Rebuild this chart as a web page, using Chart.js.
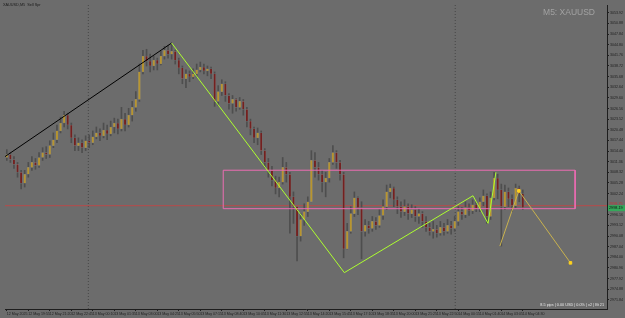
<!DOCTYPE html>
<html>
<head>
<meta charset="utf-8">
<style>
html, body { margin: 0; padding: 0; background: #6c6c6c; }
canvas { display: block; }
</style>
</head>
<body>
<canvas id="priceChart" width="625" height="318"></canvas>
<script src="https://cdn.jsdelivr.net/npm/chart.js@4/dist/chart.umd.min.js"></script>
<script>
// XAUUSD M5 candles (open = previous close)
const firstOpen = 3012.54;
const closes = [
    3013.39, 3011.98, 3010.57, 3008.32, 3005.23, 3007.76, 3009.73, 3011.14, 3010.29, 3012.54,
    3013.95, 3013.39, 3015.92, 3017.61, 3020.14, 3022.40, 3024.65, 3021.83, 3018.17, 3015.92,
    3016.77, 3015.36, 3017.33, 3016.77, 3018.45, 3019.58, 3018.74, 3020.42, 3019.30, 3021.27,
    3022.40, 3020.71, 3023.52, 3021.83, 3024.65, 3026.90, 3029.15, 3037.03, 3041.53, 3040.13,
    3038.72, 3040.41, 3039.28, 3041.53, 3043.22, 3042.10, 3042.94, 3040.41, 3038.16, 3035.06,
    3036.47, 3035.62, 3036.47, 3037.59, 3038.44, 3037.31, 3037.88, 3036.47, 3028.59, 3031.40,
    3033.65, 3030.28, 3028.02, 3029.15, 3026.90, 3028.59, 3026.34, 3022.96, 3020.71, 3018.17,
    3019.58, 3014.51, 3011.14, 3008.88, 3006.07, 3003.82, 3005.51, 3009.73, 3007.76, 3001.29,
    2998.47, 2990.03, 2994.81, 2997.06, 2999.88, 3011.70, 3009.73, 3007.76, 3005.51, 3006.63,
    3011.14, 3013.95, 3011.14, 3007.76, 2986.37, 2991.43, 2996.50, 3001.00, 2998.19, 2991.43,
    2993.12, 2992.28, 2994.25, 2993.12, 2995.94, 2998.47, 3002.69, 3003.82, 3000.44, 2998.47,
    2997.06, 2998.47, 2996.50, 2997.63, 2995.66, 2996.50, 2994.25, 2992.56, 2991.43, 2992.00,
    2990.87, 2992.56, 2991.43, 2993.12, 2992.28, 2994.25, 2997.06, 2996.22, 2998.19, 2997.35,
    2999.03, 2997.91, 2999.88, 3001.57, 2995.66, 3001.00, 3006.63, 3003.26, 2998.47, 3002.69,
    3000.72, 2998.75, 3003.82, 3002.13, 2998.19
];
const highs = [
    3014.80, 3013.95, 3012.82, 3011.14, 3008.88, 3008.88, 3011.14, 3012.82, 3012.26, 3013.95,
    3015.36, 3015.64, 3017.33, 3019.58, 3021.83, 3024.08, 3025.77, 3025.21, 3022.40, 3019.02,
    3018.17, 3017.61, 3018.74, 3019.02, 3020.14, 3021.27, 3020.71, 3022.40, 3021.83, 3022.96,
    3023.80, 3023.52, 3026.90, 3025.21, 3026.62, 3028.59, 3031.40, 3039.28, 3043.22, 3043.50,
    3042.10, 3041.53, 3040.97, 3042.94, 3044.35, 3044.63, 3044.91, 3043.22, 3040.97, 3038.72,
    3037.59, 3037.31, 3037.88, 3039.28, 3039.85, 3039.28, 3038.72, 3038.44, 3037.03, 3033.09,
    3034.78, 3034.22, 3030.84, 3030.28, 3029.43, 3029.71, 3029.15, 3026.90, 3023.52, 3021.27,
    3020.99, 3020.14, 3015.08, 3012.26, 3010.01, 3007.20, 3006.91, 3012.54, 3011.14, 3008.32,
    3002.69, 2998.47, 2996.50, 2999.31, 3001.29, 3014.51, 3013.95, 3011.14, 3008.88, 3008.32,
    3012.26, 3015.92, 3014.51, 3011.70, 3008.32, 2993.69, 2998.47, 3002.69, 3001.29, 2999.88,
    2994.81, 2994.25, 2995.66, 2995.37, 2997.63, 3000.44, 3004.66, 3004.94, 3004.10, 3001.29,
    2999.88, 3000.44, 2999.31, 2999.03, 2998.47, 2997.91, 2997.06, 2995.66, 2993.69, 2994.25,
    2993.12, 2994.25, 2993.69, 2994.81, 2994.25, 2995.66, 2998.47, 2998.19, 2999.88, 2999.31,
    3000.44, 2999.88, 3001.00, 3003.26, 3002.13, 3002.69, 3008.32, 3007.76, 3004.94, 3004.66,
    3003.82, 3001.85, 3004.94, 3004.38, 3003.26
];
const lows = [
    3011.70, 3011.14, 3009.45, 3006.91, 3003.54, 3004.10, 3006.91, 3008.88, 3009.17, 3009.73,
    3011.70, 3012.26, 3012.54, 3015.36, 3016.77, 3019.58, 3021.27, 3020.71, 3016.77, 3014.51,
    3014.51, 3013.95, 3014.51, 3015.36, 3016.20, 3017.89, 3017.33, 3018.17, 3017.61, 3018.74,
    3019.58, 3019.30, 3020.14, 3020.14, 3021.27, 3022.96, 3025.77, 3028.59, 3036.47, 3038.72,
    3037.03, 3037.59, 3037.59, 3039.00, 3040.69, 3040.97, 3040.69, 3039.28, 3036.47, 3033.65,
    3032.53, 3034.22, 3035.06, 3035.62, 3037.03, 3036.47, 3035.91, 3035.06, 3027.18, 3027.46,
    3030.28, 3028.59, 3026.34, 3025.21, 3025.77, 3026.34, 3024.65, 3021.27, 3019.02, 3016.77,
    3016.20, 3013.39, 3009.73, 3006.91, 3004.38, 3002.13, 3001.29, 3004.94, 3005.51, 2990.87,
    2993.69, 2982.99, 2988.62, 2993.12, 2995.66, 2999.88, 3006.91, 3006.07, 3002.69, 3001.29,
    3005.51, 3010.57, 3009.45, 3006.07, 2983.84, 2986.37, 2990.87, 2995.66, 2996.22, 2983.55,
    2990.03, 2990.87, 2991.43, 2992.00, 2992.56, 2994.81, 2997.63, 3001.00, 2998.47, 2996.50,
    2995.37, 2995.94, 2994.81, 2995.37, 2994.25, 2993.69, 2992.56, 2991.43, 2990.31, 2989.46,
    2989.75, 2990.31, 2990.31, 2990.87, 2990.59, 2991.43, 2993.12, 2994.81, 2995.37, 2995.94,
    2996.50, 2997.06, 2997.06, 2998.75, 2993.69, 2994.81, 3000.44, 3000.72, 2987.21, 2997.63,
    2998.47, 2997.06, 2998.19, 2999.88, 2997.63
];

// bar slots on the time axis (includes the empty space on the right)
const slotCount = 168;
const labelEvery = 6;
const xTickLabels = [
    '12 May 2025', '12 May 19:55', '12 May 21:20', '12 May 22:45', '13 May 00:10',
    '13 May 01:35', '13 May 03:00', '13 May 04:25', '13 May 05:50', '13 May 07:15',
    '13 May 08:40', '13 May 10:05', '13 May 11:30', '13 May 12:55', '13 May 14:20',
    '13 May 15:45', '13 May 17:10', '13 May 18:35', '13 May 20:00', '13 May 21:25',
    '13 May 22:50', '14 May 00:15', '14 May 01:40', '14 May 03:05', '14 May 04:30'
];
const yTickValues = [
    3053.92, 3050.88, 3047.84, 3044.80, 3041.76, 3038.72, 3035.68, 3032.64, 3029.60, 3026.56,
    3023.52, 3020.48, 3017.44, 3014.40, 3011.36, 3008.32, 3005.28, 3002.24, 2996.16,
    2993.12, 2990.08, 2987.04, 2984.00, 2980.96, 2977.92, 2974.88, 2971.84
];
const yMin = 2969.20;
const yMax = 3056.17;

// drawn objects (bar index, price)
const blackTrend = [{x: -0.5, y: 3012.8}, {x: 46.0, y: 3045.3}];
const greenTrend = [{x: 46.0, y: 3045.3}, {x: 94.2, y: 2979.6}, {x: 130.1, y: 3001.6}, {x: 134.3, y: 2993.7}, {x: 136.5, y: 3008.3}];
const projection = [{x: 137.6, y: 2987.2}, {x: 142.9, y: 3003.0}, {x: 157.3, y: 2982.4}];
const zoneLeft = 60.4, zoneRight = 158.6, zoneTop = 3008.9, zoneBottom = 2997.9;
const redLevel = 2998.75;
const separators = [22.75, 125.15];

const bgColor = '#6c6c6c';
const bullColor = '#b8952e';
const bearColor = '#74201f';
const wickColor = '#4e4e4e';
const axisColor = '#1e1e1e';
const tinyFont = {family: 'Liberation Sans, Arial, sans-serif', size: 3.6};

const opens = closes.map((c, i) => (i === 0 ? firstOpen : closes[i - 1]));
const categories = Array.from({length: slotCount}, (_, i) => String(i));

const zoneRect = [
    {x: zoneLeft, y: zoneTop}, {x: zoneRight, y: zoneTop}, {x: zoneRight, y: zoneBottom},
    {x: zoneLeft, y: zoneBottom}, {x: zoneLeft, y: zoneTop}
];

function lineSet(data, color, order, extra) {
    return Object.assign({
        type: 'line',
        xAxisID: 'xl',
        data: data,
        borderColor: color,
        borderWidth: 1,
        pointRadius: 0,
        fill: false,
        tension: 0,
        order: order
    }, extra || {});
}

const datasets = [];
separators.forEach(function (sx) {
    datasets.push(lineSet([{x: sx, y: yMax}, {x: sx, y: yMin}], '#474747', 20, {borderDash: [1, 2]}));
});
datasets.push(lineSet([{x: -0.5, y: redLevel}, {x: slotCount - 0.5, y: redLevel}], '#b84a4a', 15));
datasets.push({
    type: 'bar',
    data: lows.map((l, i) => [l, highs[i]]),
    backgroundColor: wickColor,
    barThickness: 1,
    grouped: false,
    order: 12
});
datasets.push({
    type: 'bar',
    data: closes.map((c, i) => [opens[i], c]),
    backgroundColor: closes.map((c, i) => (c >= opens[i] ? bullColor : bearColor)),
    borderColor: '#7e7e7e',
    borderWidth: 0.5,
    borderSkipped: false,
    barThickness: 2.2,
    minBarLength: 1,
    grouped: false,
    order: 10
});
datasets.push(lineSet(zoneRect, '#ec6cb2', 5));
datasets.push(lineSet(blackTrend, '#000000', 3));
datasets.push(lineSet(greenTrend, '#adff2f', 2));
datasets.push(lineSet(projection, '#c9b24e', 1, {
    pointRadius: [0, 1.8, 1.8],
    pointStyle: 'rect',
    pointBackgroundColor: '#ffd21e',
    pointBorderColor: '#ffd21e'
}));

const terminalDecor = {
    id: 'terminalDecor',
    beforeDraw(chart) {
        const ctx = chart.ctx;
        ctx.save();
        ctx.fillStyle = bgColor;
        ctx.fillRect(0, 0, chart.width, chart.height);
        ctx.restore();
    },
    afterDraw(chart) {
        const ctx = chart.ctx;
        const y = chart.scales.y;
        const area = chart.chartArea;
        ctx.save();
        ctx.textBaseline = 'middle';

        ctx.font = '8.5px Liberation Sans, Arial, sans-serif';
        ctx.fillStyle = '#a2a2a2';
        ctx.textAlign = 'right';
        ctx.fillText('M5: XAUUSD', 595, 13);

        ctx.font = '3.8px Liberation Sans, Arial, sans-serif';
        ctx.fillStyle = '#1c1c1c';
        ctx.textAlign = 'left';
        ctx.fillText('XAUUSD,M5  Sell Spr', 3, 5);

        ctx.fillStyle = '#e8e8e8';
        ctx.textAlign = 'right';
        ctx.fillText('8.5 pips | 0.00 USD | 0.0% | x2 | Bt 21', area.right - 3, area.bottom - 4);

        const ry = y.getPixelForValue(redLevel);
        ctx.fillStyle = '#c03838';
        ctx.textAlign = 'left';
        ctx.fillText(redLevel.toFixed(2), area.right + 2, ry - 1.5);

        const last = closes[closes.length - 1];
        const gy = y.getPixelForValue(last);
        ctx.fillStyle = '#34a85a';
        ctx.fillRect(area.right + 1, gy - 2.5, 17, 6);
        ctx.fillStyle = '#101010';
        ctx.fillText(last.toFixed(2), area.right + 2, gy + 0.5);
        ctx.restore();
    }
};

const priceChart = document.getElementById('priceChart');
new Chart(priceChart, {
    type: 'bar',
    data: {
        labels: categories,
        datasets: datasets
    },
    options: {
        responsive: false,
        devicePixelRatio: 1,
        animation: false,
        layout: {padding: 0},
        plugins: {
            legend: {display: false},
            tooltip: {enabled: false}
        },
        scales: {
            x: {
                type: 'category',
                offset: true,
                grid: {
                    display: true,
                    drawOnChartArea: false,
                    offset: false,
                    tickLength: 2,
                    tickColor: axisColor
                },
                border: {color: axisColor},
                ticks: {
                    autoSkip: false,
                    maxRotation: 0,
                    align: 'start',
                    padding: 1,
                    color: axisColor,
                    font: tinyFont,
                    callback: function (value) {
                        return xTickLabels[value / labelEvery];
                    }
                },
                afterBuildTicks: function (scale) {
                    scale.ticks = scale.ticks.filter(t => t.value % labelEvery === 0 && t.value / labelEvery < xTickLabels.length);
                },
                afterFit: function (scale) {
                    scale.height = 9;
                }
            },
            xl: {
                type: 'linear',
                display: false,
                min: -0.5,
                max: slotCount - 0.5,
                offset: false
            },
            y: {
                type: 'linear',
                position: 'right',
                min: yMin,
                max: yMax,
                grid: {
                    drawOnChartArea: false,
                    tickLength: 2,
                    tickColor: axisColor
                },
                border: {color: axisColor},
                ticks: {
                    padding: 1,
                    color: axisColor,
                    font: tinyFont,
                    callback: function (value) {
                        return value.toFixed(2);
                    }
                },
                afterBuildTicks: function (scale) {
                    scale.ticks = yTickValues.map(v => ({value: v}));
                },
                afterFit: function (scale) {
                    scale.width = 18;
                }
            }
        }
    },
    plugins: [terminalDecor]
});
</script>
</body>
</html>
